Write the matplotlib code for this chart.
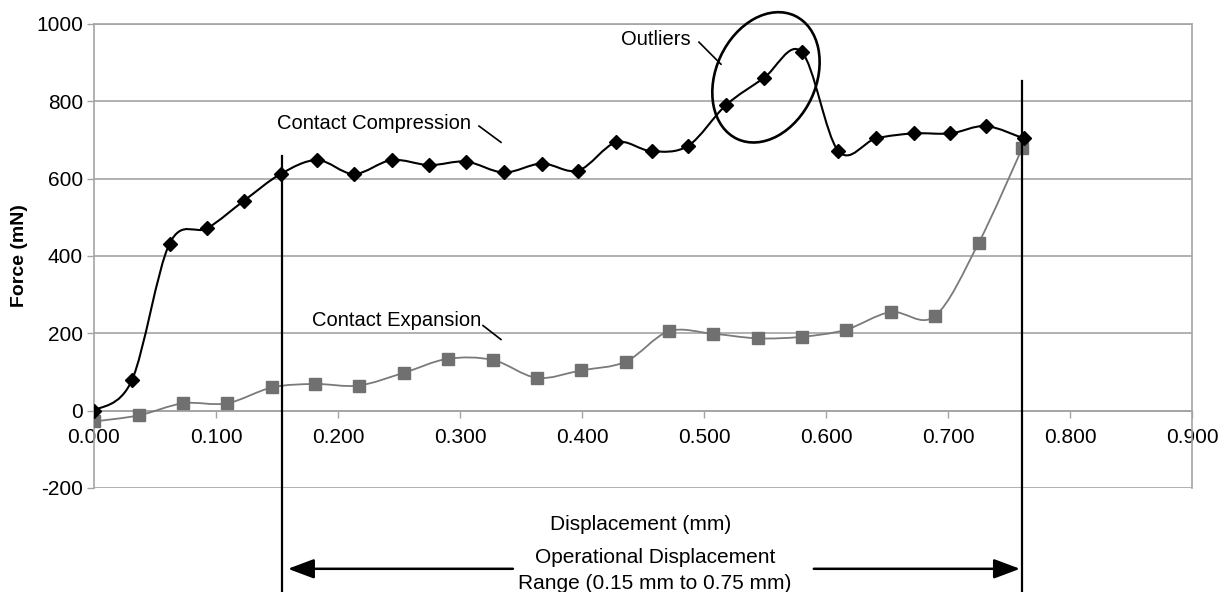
import numpy as np
import matplotlib
matplotlib.use("Agg")
from matplotlib import pyplot as plt
from matplotlib.path import Path
from matplotlib.patches import PathPatch, Ellipse
from matplotlib.transforms import ScaledTranslation

plt.rcParams['font.family'] = ['Liberation Sans', 'DejaVu Sans']
plt.rcParams['axes.unicode_minus'] = False

# contact compression (black diamonds)
comp_x = [0.000, 0.031, 0.062, 0.093, 0.123, 0.153, 0.183, 0.213, 0.244, 0.275, 0.305, 0.336, 0.367,
          0.397, 0.428, 0.457, 0.487, 0.518, 0.549, 0.580, 0.610, 0.641, 0.672, 0.702, 0.731, 0.762]
comp_y = [0, 78, 432, 472, 543, 612, 648, 612, 648, 635, 644, 616, 639,
          621, 694, 671, 685, 790, 860, 928, 672, 704, 717, 717, 736, 704]

# contact expansion (gray squares)
exp_x = [0.000, 0.037, 0.073, 0.109, 0.146, 0.181, 0.217, 0.254, 0.290, 0.327, 0.363,
         0.399, 0.436, 0.471, 0.507, 0.544, 0.580, 0.616, 0.653, 0.689, 0.725, 0.761]
exp_y = [-28, -12, 19, 19, 60, 69, 65, 98, 134, 131, 85,
         104, 127, 205, 199, 187, 191, 209, 255, 244, 433, 680]

x_ticks = [0.0, 0.1, 0.2, 0.3, 0.4, 0.5, 0.6, 0.7, 0.8, 0.9]
y_ticks = [-200, 0, 200, 400, 600, 800, 1000]
range_lo, range_hi = 0.154, 0.7604


def smooth_path(xs, ys):
    # excel-like smoothed line through the points (bezier segments)
    pts = np.column_stack([xs, ys]).astype(float)
    n = len(pts)
    verts = [pts[0]]
    codes = [Path.MOVETO]
    for i in range(n - 1):
        p0 = pts[max(i - 1, 0)]
        p1 = pts[i]
        p2 = pts[i + 1]
        p3 = pts[min(i + 2, n - 1)]
        verts += [p1 + (p2 - p0) / 6, p2 - (p3 - p1) / 6, p2]
        codes += [Path.CURVE4] * 3
    return Path(verts, codes)


fig = plt.figure(figsize=(12.28, 5.92), dpi=100)
ax = fig.add_axes([0.0765, 0.1757, 0.8942, 0.7838])

grid_c = "#a4a4a4"
ax.set_xlim(0, 0.9)
ax.set_ylim(-200, 1000)
ax.set_xticks(x_ticks)
ax.set_xticklabels([f"{v:.3f}" for v in x_ticks])
ax.set_yticks(y_ticks)
ax.yaxis.grid(True, color=grid_c, lw=1.2)
ax.set_axisbelow(True)
for s in ax.spines.values():
    s.set_color(grid_c)
    s.set_linewidth(1.2)
ax.spines['bottom'].set_position(('data', 0))
ax.tick_params(axis='both', colors=grid_c, length=5, width=1.0, labelcolor='black', labelsize=15)
ax.tick_params(axis='x', pad=7.5)
ax.tick_params(axis='y', pad=3)
ax.set_ylabel("Force (mN)", fontsize=14, fontweight='bold', labelpad=6)

# lines
ax.add_patch(PathPatch(smooth_path(exp_x, exp_y), fill=False, edgecolor="#7a7a7a", lw=1.3, zorder=3))
ax.add_patch(PathPatch(smooth_path(comp_x, comp_y), fill=False, edgecolor="black", lw=1.5, zorder=4))
ax.plot(exp_x, exp_y, ls='none', marker='s', ms=8, color="#707070", zorder=5)
ax.plot(comp_x, comp_y, ls='none', marker='D', ms=7, color="black", zorder=6)

# operational range lines
ax.plot([range_lo, range_lo], [658, -475], color='black', lw=1.6, clip_on=False, zorder=7)
ax.plot([range_hi, range_hi], [852, -475], color='black', lw=1.6, clip_on=False, zorder=7)

# labels and leaders
ax.text(0.150, 743, "Contact Compression", fontsize=14.5, va='center', ha='left')
ax.plot([0.3156, 0.3336], [736, 694], color='black', lw=1.2)
ax.text(0.1787, 233, "Contact Expansion", fontsize=14.5, va='center', ha='left')
ax.plot([0.3189, 0.3336], [220, 184], color='black', lw=1.2)
ax.text(0.432, 961, "Outliers", fontsize=14.5, va='center', ha='left')
ax.plot([0.4959, 0.5139], [953, 896], color='black', lw=1.2)

ell_tr = fig.dpi_scale_trans + ScaledTranslation(0.5508, 862, ax.transData)
ax.add_patch(Ellipse((0, 0), 1.36, 1.0, angle=65, transform=ell_tr, fill=False,
                     edgecolor='black', lw=1.9, clip_on=False, zorder=8))

# x label and range arrow below the plot
ax.text(0.448, -295, "Displacement (mm)", fontsize=15, ha='center', va='center', clip_on=False)
ax.text(0.460, -381, "Operational Displacement", fontsize=15, ha='center', va='center', clip_on=False)
ax.text(0.460, -448, "Range (0.15 mm to 0.75 mm)", fontsize=15, ha='center', va='center', clip_on=False)
arr = dict(arrowstyle='-|>,head_length=0.8,head_width=0.3', color='black', lw=1.8,
           mutation_scale=20, shrinkA=0, shrinkB=0)
ax.annotate('', xy=(0.159, -409), xytext=(0.3434, -409), arrowprops=arr, annotation_clip=False)
ax.annotate('', xy=(0.759, -409), xytext=(0.590, -409), arrowprops=arr, annotation_clip=False)

fig.savefig("out.png", dpi=100)
